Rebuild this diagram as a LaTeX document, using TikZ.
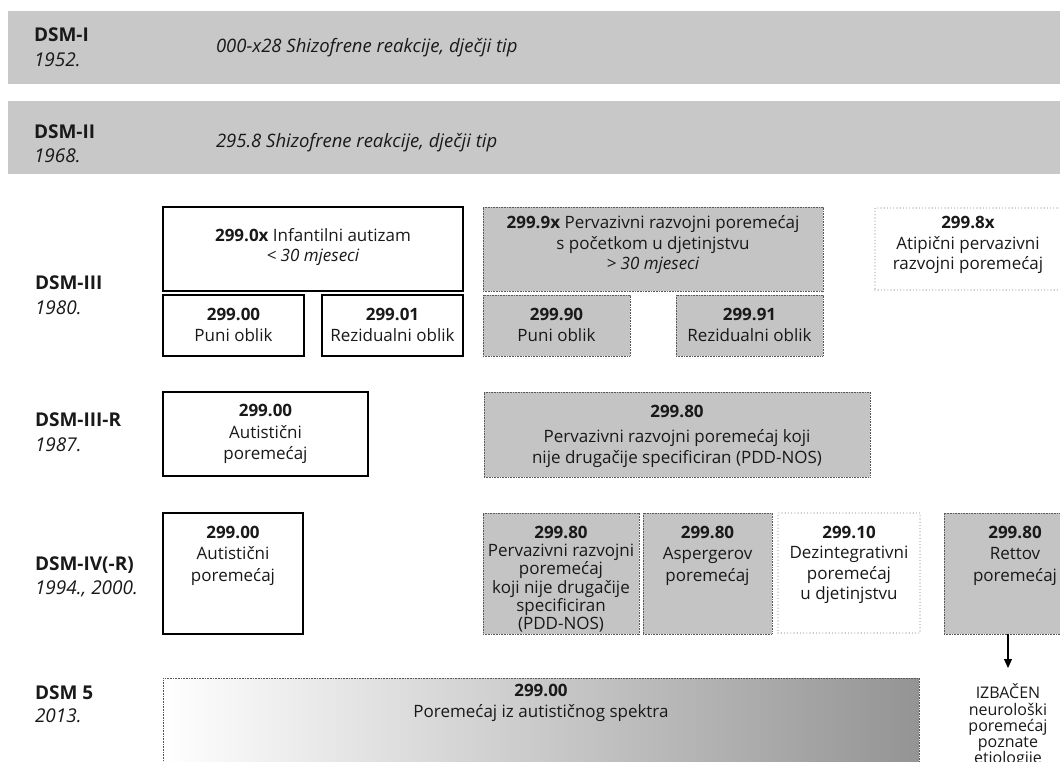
\documentclass[tikz,border=0pt]{standalone}
\usepackage{fontspec}
\setmainfont{Open Sans}
\usetikzlibrary{arrows.meta}
\definecolor{bandgray}{gray}{0.785}
\definecolor{boxgray}{gray}{0.77}
\definecolor{dotgray}{gray}{0.35}
\definecolor{ink}{gray}{0.1}
\begin{document}
\begin{tikzpicture}[x=1pt,y=-1pt,
  every node/.style={inner sep=0pt, outer sep=0pt, text=ink},
  band/.style={fill=bandgray, draw=none, anchor=north west, minimum width=1052pt, minimum height=73pt},
  lbl/.style={anchor=west, font=\fontsize{19}{22}\selectfont\bfseries},
  yr/.style={anchor=west, font=\fontsize{19}{22}\selectfont\itshape},
  bandtxt/.style={anchor=west, font=\fontsize{18.5}{22}\selectfont\itshape},
  solidbox/.style={draw=black, line width=1.5pt, fill=white},
  graybox/.style={draw=dotgray, fill=boxgray, line width=0.9pt, dash pattern=on 0.9pt off 0.7pt},
  dotbox/.style={draw=gray, line width=1.1pt, line cap=round, dash pattern=on 0pt off 3.2pt, fill=white},
  gradbox/.style={draw=dotgray, line width=0.9pt, dash pattern=on 0.9pt off 0.7pt, left color=white, right color=black!42},
  txt/.style={align=center, font=\fontsize{17}{20.5}\selectfont},
  txtb/.style={txt, anchor=north},
]
\useasboundingbox (0,0) rectangle (1060,762);

% bands
\node[band] (band1) at (8,11) {};
\node[band] (band2) at (8,101) {};
\node[lbl] (l1) at (34,35) {DSM-I};
\node[yr] (y1) at (34,60) {1952.};
\node[bandtxt] (b1t) at (216,48) {000-x28 Shizofrene reakcije, dječji tip};
\node[lbl] (l2) at (34,132) {DSM-II};
\node[yr] (y2) at (34,156) {1968.};
\node[bandtxt] (b2t) at (216,143) {295.8 Shizofrene reakcije, dječji tip};

% left labels
\node[lbl] (l3) at (35,283) {DSM-III};
\node[yr] (y3) at (35,308) {1980.};
\node[lbl] (l4) at (35,420) {DSM-III-R};
\node[yr] (y4) at (35,445) {1987.};
\node[lbl] (l5) at (35,565) {DSM-IV(-R)};
\node[yr] (y5) at (35,589) {1994., 2000.};
\node[lbl] (l6) at (35,693) {DSM 5};
\node[yr] (y6) at (35,716) {2013.};

% DSM-III
\node[solidbox, minimum width=300pt, minimum height=84pt] (a3) at (313,249) {};
\node[txt] (a3t) at (313,247) {\textbf{299.0x} Infantilni autizam\\\textit{< 30 mjeseci}};
\node[solidbox, minimum width=141pt, minimum height=61pt] (a3s1) at (233.5,325.5) {};
\node[txt] (a3s1t) at (233.5,325) {\textbf{299.00}\\Puni oblik};
\node[solidbox, minimum width=141pt, minimum height=61pt] (a3s2) at (392.5,325.5) {};
\node[txt] (a3s2t) at (392.5,325) {\textbf{299.01}\\Rezidualni oblik};

\node[graybox, minimum width=340pt, minimum height=84pt] (g3) at (653,249) {};
\node[txt] (g3t) at (653,245) {\textbf{299.9x} Pervazivni razvojni poremećaj\\s početkom u djetinjstvu\\\textit{> 30 mjeseci}};
\node[graybox, minimum width=147pt, minimum height=61pt] (g3s1) at (556.5,325.5) {};
\node[txt] (g3s1t) at (556.5,325) {\textbf{299.90}\\Puni oblik};
\node[graybox, minimum width=147pt, minimum height=61pt] (g3s2) at (749.5,325.5) {};
\node[txt] (g3s2t) at (749.5,325) {\textbf{299.91}\\Rezidualni oblik};

\node[dotbox, minimum width=186pt, minimum height=82pt] (p3) at (968,249) {};
\node[txt] (p3t) at (968,245) {\textbf{299.8x}\\Atipični pervazivni\\razvojni poremećaj};

% DSM-III-R
\node[solidbox, minimum width=205pt, minimum height=84pt] (a4) at (265.5,434) {};
\node[txt, font=\fontsize{17}{21.5}\selectfont] (a4t) at (265.5,434) {\textbf{299.00}\\Autistični\\poremećaj};
\node[graybox, minimum width=386pt, minimum height=85pt] (g4) at (677,434.5) {};
\node[txt] (g4t) at (677,436) {\textbf{299.80}\\[5pt]Pervazivni razvojni poremećaj koji\\nije drugačije specificiran (PDD-NOS)};

% DSM-IV(-R)
\node[solidbox, minimum width=140pt, minimum height=121pt] (a5) at (233,573.5) {};
\node[txtb, font=\fontsize{17}{21.5}\selectfont] (a5t) at (233,526) {\textbf{299.00}\\Autistični\\poremećaj};
\node[graybox, minimum width=156pt, minimum height=121pt] (g5a) at (561,573.5) {};
\node[txtb, font=\fontsize{17}{18.3}\selectfont] (g5at) at (561,526) {\textbf{299.80}\\Pervazivni razvojni\\poremećaj\\koji nije drugačije\\specificiran\\(PDD-NOS)};
\node[graybox, minimum width=129pt, minimum height=121pt] (g5b) at (707.5,573.5) {};
\node[txtb, font=\fontsize{17}{21.5}\selectfont] (g5bt) at (707.5,526) {\textbf{299.80}\\Aspergerov\\poremećaj};
\node[dotbox, minimum width=142pt, minimum height=120pt] (d5) at (849,573) {};
\node[txtb, font=\fontsize{17}{20.5}\selectfont] (d5t) at (849,526) {\textbf{299.10}\\Dezintegrativni\\poremećaj\\u djetinjstvu};
\node[graybox, minimum width=142pt, minimum height=121pt] (rettov) at (1015,573.5) {};
\node[txtb, font=\fontsize{17}{21.5}\selectfont] (rettovt) at (1015,526) {\textbf{299.80}\\Rettov\\poremećaj};

% DSM 5
\node[gradbox, minimum width=756pt, minimum height=102pt] (s5) at (541,729) {};
\node[txt] (s5t) at (541,703) {\textbf{299.00}\\Poremećaj iz autističnog spektra};

\node[anchor=north, align=center, font=\fontsize{16}{16.2}\selectfont] (izb) at (1008,684) {IZBAČEN\\neurološki\\poremećaj\\poznate\\etiologije};
\draw[line width=1.1pt, -{Triangle[length=9pt,width=8pt]}] (rettov.south -| izb.north) -- ([yshift=16pt]izb.north);
\end{tikzpicture}
\end{document}
